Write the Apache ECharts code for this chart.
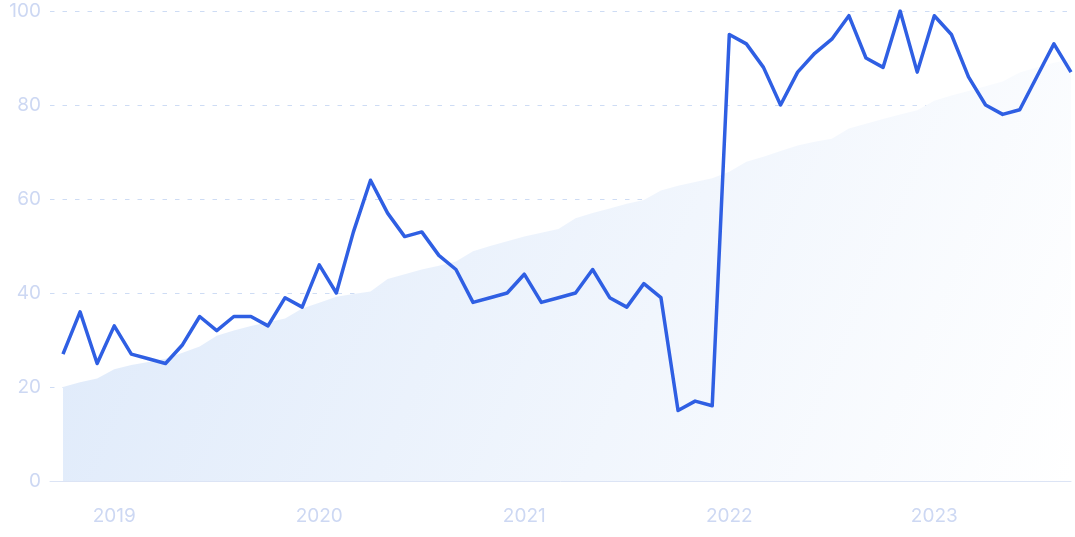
<!DOCTYPE html>
<html>
<head>
<meta charset="utf-8">
<script src="https://cdn.jsdelivr.net/npm/echarts@6/dist/echarts.min.js"></script>
<style>
html,body{margin:0;padding:0;background:#fff;}
#c{width:1075px;height:537px;}
</style>
</head>
<body>
<div id="c"></div>
<script>
// Monthly points, Oct 2018 .. Sep 2023
var months = [];
(function(){ for (var y = 2018, m = 10; months.length < 60; ) { months.push(y + '-' + (m < 10 ? '0' + m : m)); m++; if (m > 12) { m = 1; y++; } } })();

var searchInterest = [27,36,25,33,27,26,25,29,35,32,35,35,33,39,37,46,40,53,64,57,52,53,48,45,38,39,40,44,38,39,40,45,39,37,42,39,15,17,16,95,93,88,80,87,91,94,99,90,88,100,87,99,95,86,80,78,79,86,93,87];
var trend = [20,21,21.8,23.8,24.7,25.3,26,27.3,28.6,30.9,32,33,33.8,34.6,36.7,37.9,39.2,39.8,40.3,43,44,45,45.8,46.7,48.9,50,51,52,52.8,53.6,55.9,57,58,59,59.8,61.8,62.8,63.6,64.4,65.8,67.9,69,70.2,71.4,72.2,72.8,75,76,77,78,78.9,80.9,82,83,84,85,86.9,88,89,89.7];
var yearTicks = ['2019','2020','2021','2022','2023'];
var yTicks = [0,20,40,60,80,100];

var yearIdx = yearTicks.map(function(y){ return months.indexOf(y + '-01'); });

var chart = echarts.init(document.getElementById('c'), null, {renderer:'canvas'});
chart.setOption({
  animation:false,
  grid:{left:50, right:4, top:11, bottom:56, containLabel:false},
  xAxis:{
    type:'value', min:-0.76, max:59,
    axisLine:{show:true, lineStyle:{color:'#dce4f5', width:1}},
    axisTick:{show:false},
    splitLine:{show:false},
    axisLabel:{
      customValues: yearIdx,
      margin:26,
      color:'#cdd8f3', fontSize:19, fontFamily:'Inter',
      formatter:function(v){ var i = yearIdx.indexOf(Math.round(v)); return i >= 0 ? yearTicks[i] : ''; }
    }
  },
  yAxis:{
    type:'value', min:0, max:100, interval:20,
    axisLine:{show:false}, axisTick:{show:false},
    axisLabel:{color:'#cdd8f3', fontSize:19, fontFamily:'Inter', margin:9,
      formatter:function(v){ return yTicks.indexOf(v) >= 0 ? String(v) : ''; }},
    splitLine:{show:true, lineStyle:{color:'rgba(185,205,240,0.7)', type:[4.5,8], width:1}}
  },
  series:[
    {
      type:'line', data: trend.map(function(v,i){ return [i, v]; }),
      showSymbol:false, symbol:'none', z:1,
      lineStyle:{width:0},
      areaStyle:{opacity:1, color:new echarts.graphic.LinearGradient(0,0,1,1,[
        {offset:0, color:'#dde9fa'},
        {offset:1, color:'#ffffff'}
      ])}
    },
    {
      type:'line', data: searchInterest.map(function(v,i){ return [i, v]; }),
      showSymbol:false, symbol:'none', z:3,
      lineStyle:{width:3.5, color:'#2f5fe3', join:'round'}
    }
  ]
});
</script>
</body>
</html>
